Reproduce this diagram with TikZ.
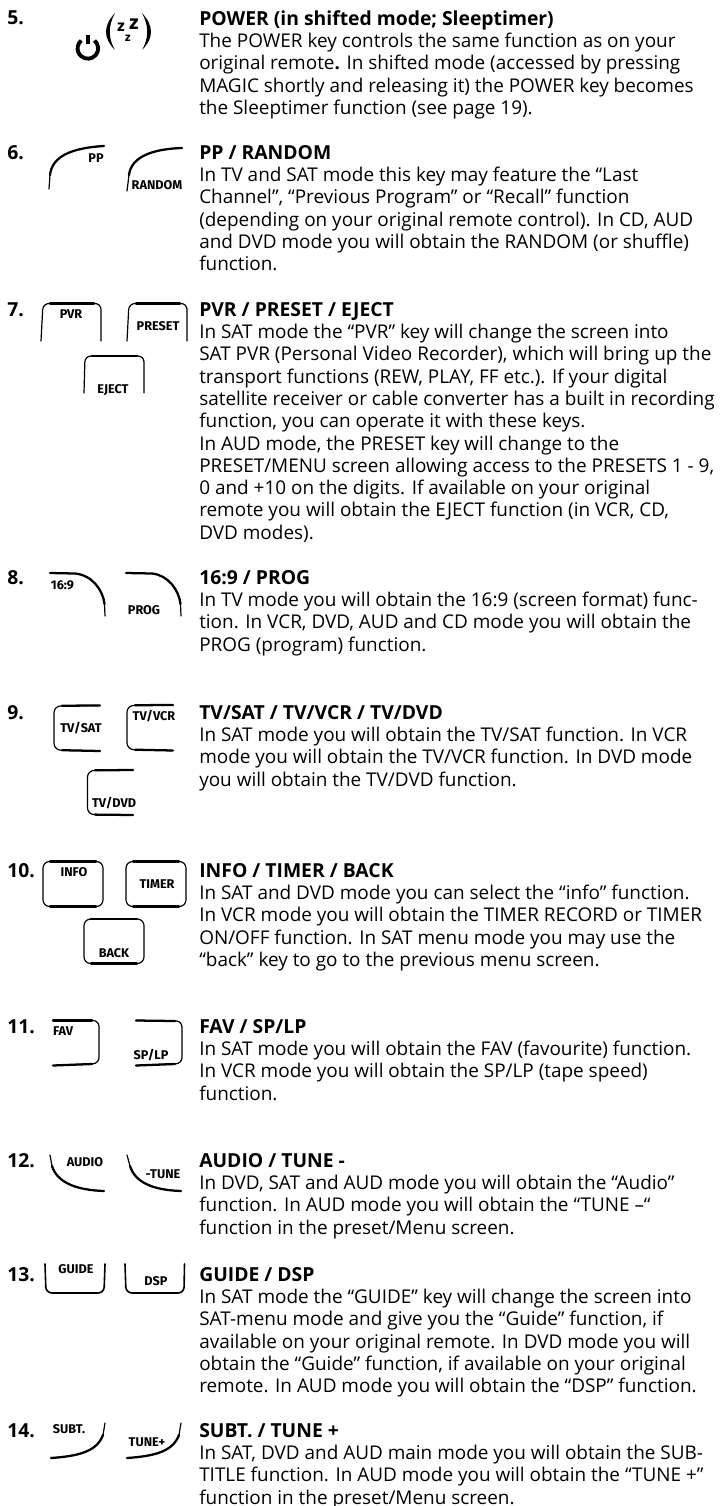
\documentclass[tikz,border=0pt]{standalone}
\usepackage{fontspec}
\setmainfont{Open Sans}
\newfontfamily\keyfont{Fira Sans}
\usepackage{tikz}

\tikzset{
  stepnum/.style={anchor=base west, inner sep=0pt, font=\fontsize{14.5}{14.5}\selectfont\bfseries},
  stepbody/.style={anchor=north west, inner sep=0pt, align=left, font=\fontsize{14.2}{16.72}\selectfont},
  keylabel/.style={inner sep=0pt, font=\fontsize{9.5}{10}\keyfont\bfseries},
  keyline/.style={line width=1.7pt, line cap=round, line join=round},
  keyside/.style={line width=0.9pt, line cap=round, line join=round}
}
\newcommand{\stephead}[1]{{\rule{0pt}{12pt}\fontsize{14.5}{16.72}\selectfont\bfseries #1}}

\begin{document}
\begin{tikzpicture}[x=0.75pt, y=-0.75pt]
    \useasboundingbox (0, 0) rectangle (719, 1506);
    \fill[white] (0, 0) rectangle (719, 1506);

    % Numbers
    \node[stepnum] (n5) at (7, 24) {5.};
    \node[stepnum] (n6) at (7, 159) {6.};
    \node[stepnum] (n7) at (7, 316) {7.};
    \node[stepnum] (n8) at (7, 584) {8.};
    \node[stepnum] (n9) at (7, 719) {9.};
    \node[stepnum] (n10) at (7, 877) {10.};
    \node[stepnum] (n11) at (7, 1033) {11.};
    \node[stepnum] (n12) at (7, 1167) {12.};
    \node[stepnum] (n13) at (7, 1281) {13.};
    \node[stepnum] (n14) at (7, 1437) {14.};

    % Texts
    \node[stepbody] (t5) at (199, 9) {\stephead{POWER (in shifted mode; Sleeptimer)}\\
      The POWER key controls the same function as on your\\
      original remote\textbf{.} In shifted mode (accessed by pressing\\
      MAGIC shortly and releasing it) the POWER key becomes\\
      the Sleeptimer function (see page 19).};
    \node[stepbody] (t6) at (199, 143) {\stephead{PP / RANDOM}\\
      In TV and SAT mode this key may feature the “Last\\
      Channel”, “Previous Program” or “Recall” function\\
      (depending on your original remote control). In CD, AUD\\
      and DVD mode you will obtain the RANDOM (or shuffle)\\
      function.};
    \node[stepbody] (t7) at (199, 300) {\stephead{PVR / PRESET / EJECT}\\
      In SAT mode the “PVR” key will change the screen into\\
      SAT PVR (Personal Video Recorder), which will bring up the\\
      transport functions (REW, PLAY, FF etc.). If your digital\\
      satellite receiver or cable converter has a built in recording\\
      function, you can operate it with these keys.\\
      In AUD mode, the PRESET key will change to the\\
      PRESET/MENU screen allowing access to the PRESETS 1 - 9,\\
      0 and +10 on the digits. If available on your original\\
      remote you will obtain the EJECT function (in VCR, CD,\\
      DVD modes).};
    \node[stepbody] (t8) at (199, 568) {\stephead{16:9 / PROG}\\
      In TV mode you will obtain the 16:9 (screen format) func-\\
      tion. In VCR, DVD, AUD and CD mode you will obtain the\\
      PROG (program) function.};
    \node[stepbody] (t9) at (199, 703) {\stephead{TV/SAT / TV/VCR / TV/DVD}\\
      In SAT mode you will obtain the TV/SAT function. In VCR\\
      mode you will obtain the TV/VCR function. In DVD mode\\
      you will obtain the TV/DVD function.};
    \node[stepbody] (t10) at (199, 861) {\stephead{INFO / TIMER / BACK}\\
      In SAT and DVD mode you can select the “info” function.\\
      In VCR mode you will obtain the TIMER RECORD or TIMER\\
      ON/OFF function. In SAT menu mode you may use the\\
      “back” key to go to the previous menu screen.};
    \node[stepbody] (t11) at (199, 1017) {\stephead{FAV / SP/LP}\\
      In SAT mode you will obtain the FAV (favourite) function.\\
      In VCR mode you will obtain the SP/LP (tape speed)\\
      function.};
    \node[stepbody] (t12) at (199, 1151) {\stephead{AUDIO / TUNE -}\\
      In DVD, SAT and AUD mode you will obtain the “Audio”\\
      function. In AUD mode you will obtain the “TUNE –“\\
      function in the preset/Menu screen.};
    \node[stepbody] (t13) at (199, 1265) {\stephead{GUIDE / DSP}\\
      In SAT mode the “GUIDE” key will change the screen into\\
      SAT-menu mode and give you the “Guide” function, if\\
      available on your original remote. In DVD mode you will\\
      obtain the “Guide” function, if available on your original\\
      remote. In AUD mode you will obtain the “DSP” function.};
    \node[stepbody] (t14) at (199, 1421) {\stephead{SUBT. / TUNE +}\\
      In SAT, DVD and AUD main mode you will obtain the SUB-\\
      TITLE function. In AUD mode you will obtain the “TUNE +”\\
      function in the preset/Menu screen.};

    % Power symbol
    \draw[line width=2.9pt] (94.5, 40.5) arc (-50:230:10.3);
    \draw[line width=3.2pt] (87.8, 35) -- (87.8, 44);
    \fill (115, 13) .. controls (103, 26) and (103, 38) .. (115, 50) .. controls (108, 38) and (108, 26) .. (115, 13);
    \fill (142, 13) .. controls (154, 26) and (154, 38) .. (142, 50) .. controls (149, 38) and (149, 26) .. (142, 13);
    \node[keylabel, font=\fontsize{12}{12}\keyfont\bfseries] (zz1) at (121, 27) {z};
    \node[keylabel, font=\fontsize{15}{15}\keyfont\bfseries] (zz2) at (134, 24) {z};
    \node[keylabel, font=\fontsize{9}{9}\keyfont\bfseries] (zz3) at (128, 38) {z};

    % PP / RANDOM
    \draw[keyside] (49, 189) -- (50, 175);
    \draw[keyline] (50, 175) .. controls (52, 157) and (70, 148) .. (104, 146);
    \draw[keyside] (127, 191) -- (129, 175);
    \draw[keyline] (129, 175) .. controls (131, 158) and (150, 149) .. (182, 148);
    \node[keylabel] (pp) at (96, 158) {PP};
    \node[keylabel] (random) at (157, 185) {RANDOM};

    % PVR / PRESET / EJECT
    \draw[keyside, rounded corners=4.5pt] (41, 341) -- (43, 303.5) -- (101, 303.5) -- (101, 341);
    \draw[keyside, rounded corners=4.5pt] (127, 341) -- (129, 303.5) -- (187, 303.5) -- (187, 341);
    \draw[keyside, rounded corners=4.5pt] (84, 393) -- (85, 356) -- (144, 356) -- (144, 393);
    \draw[keyline] (50, 303.5) -- (94, 303.5);
    \draw[keyline] (136, 303.5) -- (180, 303.5);
    \draw[keyline] (92, 356) -- (137, 356);
    \node[keylabel] (pvr) at (71, 314) {PVR};
    \node[keylabel] (preset) at (158, 326) {PRESET};
    \node[keylabel] (eject) at (113, 390) {EJECT};

    % 16:9 / PROG
    \draw[keyline] (50, 573) -- (75, 573.5) .. controls (92, 575) and (103, 590) .. (104.5, 604);
    \draw[keyside] (104.5, 604) -- (105, 616);
    \draw[keyline] (126, 573) -- (152, 573.5) .. controls (168, 575) and (179, 590) .. (180.5, 604);
    \draw[keyside] (180.5, 604) -- (181, 616);
    \node[keylabel] (ratio) at (62.5, 585) {16:9};
    \node[keylabel] (prog) at (144, 610) {PROG};

    % TV/SAT / TV/VCR / TV/DVD
    \draw[keyside, rounded corners=5pt] (100, 705.5) -- (54, 706) -- (54, 750) -- (100, 751);
    \draw[keyside, rounded corners=5pt] (173, 705) -- (127, 705.5) -- (127, 749.5) -- (173, 750.5);
    \draw[keyside, rounded corners=5pt] (133, 770) -- (87.5, 770.5) -- (87.5, 814.5) -- (133, 815);
    \draw[keyline] (62, 705.7) -- (100, 705.5);
    \draw[keyline] (62, 750.2) -- (100, 751);
    \draw[keyline] (135, 705.2) -- (173, 705);
    \draw[keyline] (135, 749.7) -- (173, 750.5);
    \draw[keyline] (95, 770.3) -- (133, 770);
    \draw[keyline] (95, 814.6) -- (133, 815);
    \node[keylabel] (tvsat) at (81, 728) {TV/SAT};
    \node[keylabel] (tvvcr) at (154, 716) {TV/VCR};
    \node[keylabel] (tvdvd) at (114, 803) {TV/DVD};

    % INFO / TIMER / BACK
    \draw[keyside, rounded corners=5pt] (43, 861.5) rectangle (103, 906.5);
    \draw[keyside, rounded corners=5pt] (126, 861.5) rectangle (186, 906.5);
    \draw[keyside, rounded corners=5pt] (84, 919) rectangle (144, 963.5);
    \draw[keyline] (50, 861.5) -- (96, 861.5);
    \draw[keyline] (50, 906.5) -- (96, 906.5);
    \draw[keyline] (133, 861.5) -- (179, 861.5);
    \draw[keyline] (133, 906.5) -- (179, 906.5);
    \draw[keyline] (91, 919) -- (137, 919);
    \draw[keyline] (91, 963.5) -- (137, 963.5);
    \node[keylabel] (info) at (74, 872) {INFO};
    \node[keylabel] (timer) at (157, 884) {TIMER};
    \node[keylabel] (back) at (114, 953) {BACK};

    % FAV / SP/LP
    \draw[keyside, rounded corners=4.5pt] (53, 1020.5) -- (99, 1020.5) -- (99, 1063.5) -- (53, 1065.5);
    \draw[keyside, rounded corners=4.5pt] (136, 1020.5) -- (182, 1021) -- (182, 1063.5) -- (136, 1065.5);
    \draw[keyline] (53, 1020.5) -- (92, 1020.5);
    \draw[keyline] (53, 1065.5) -- (92, 1064);
    \draw[keyline] (136, 1020.5) -- (175, 1021);
    \draw[keyline] (136, 1065.5) -- (175, 1064);
    \node[keylabel] (fav) at (63, 1031) {FAV};
    \node[keylabel] (splp) at (151, 1055) {SP/LP};

    % AUDIO / TUNE -
    \draw[keyside] (50, 1155) -- (52, 1166);
    \draw[keyline] (52, 1166) .. controls (57, 1182) and (75, 1190) .. (104, 1191);
    \draw[keyside] (127, 1155) -- (130, 1166);
    \draw[keyline] (130, 1166) .. controls (135, 1182) and (152, 1190) .. (181, 1191);
    \node[keylabel] (audio) at (85, 1162) {AUDIO};
    \node[keylabel] (tune) at (163, 1174) {-TUNE};

    % GUIDE / DSP
    \draw[keyline, line width=1.2pt, rounded corners=4.5pt] (45, 1264) -- (46, 1293) -- (104, 1293) -- (105, 1264);
    \draw[keyline, line width=1.2pt, rounded corners=4.5pt] (125, 1264) -- (126, 1293) -- (184, 1293) -- (184.5, 1264);
    \node[keylabel] (guide) at (76, 1269) {GUIDE};
    \node[keylabel] (dsp) at (156, 1281) {DSP};

    % SUBT. / TUNE +
    \draw[keyside] (105, 1423) -- (103, 1435);
    \draw[keyline] (103, 1435) .. controls (97, 1451) and (80, 1456) .. (51, 1458);
    \draw[keyside] (181, 1423) -- (179, 1435);
    \draw[keyline] (179, 1435) .. controls (173, 1451) and (156, 1456) .. (127, 1458);
    \node[keylabel] (subt) at (69, 1429) {SUBT.};
    \node[keylabel] (tuneplus) at (147, 1442) {TUNE+};
\end{tikzpicture}
\end{document}
